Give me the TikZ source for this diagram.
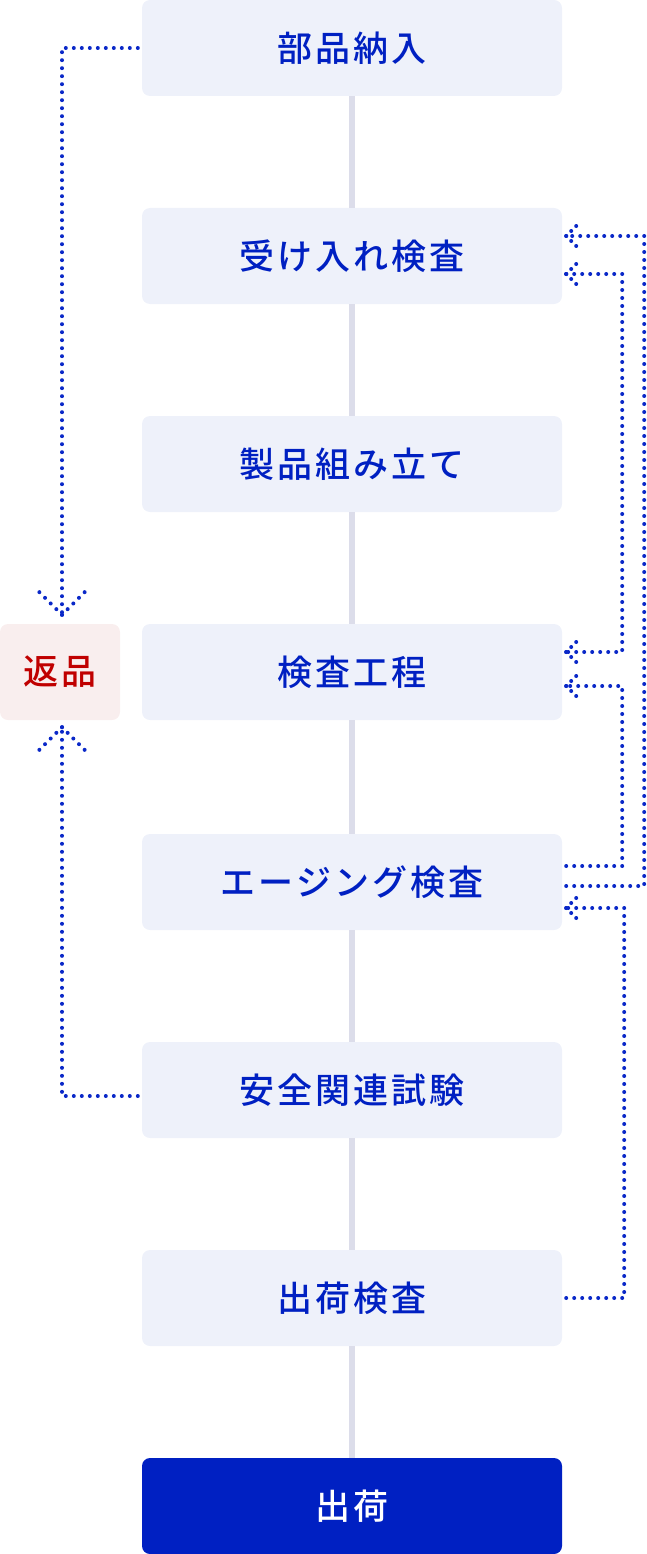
\documentclass[tikz,border=0pt]{standalone}
\usepackage{fontspec}
\usetikzlibrary{calc}
\newfontfamily\jp[LetterSpace=9]{Noto Sans CJK JP Medium}
\definecolor{boxfill}{HTML}{EEF1FA}
\definecolor{txtblue}{HTML}{0020C2}
\definecolor{dotblue}{HTML}{0A28C8}
\definecolor{vline}{HTML}{DCDDEA}
\definecolor{rfill}{HTML}{F9EEEE}
\definecolor{rtext}{HTML}{C00000}
\begin{document}
\begin{tikzpicture}[x=1pt,y=-1pt,
  stepbox/.style={draw=none, fill=boxfill, rounded corners=8pt, minimum width=420pt, minimum height=96pt, inner sep=0pt, text=txtblue, font=\jp\fontsize{35}{35}\selectfont},
  finalbox/.style={stepbox, fill=txtblue, text=white},
  retbox/.style={stepbox, fill=rfill, text=rtext, minimum width=120pt},
  vconn/.style={draw=vline, line width=6pt},
  dotline/.style={draw=dotblue, line width=4pt, line cap=round, dash pattern=on 0pt off 8pt},
  smallarm/.style={dotline, dash pattern=on 0pt off 7.07pt}]
\useasboundingbox (0,0) rectangle (646,1554);
\node[stepbox] (s1) at (352,48) {部品納入};
\node[stepbox] (s2) at (352,256) {受け入れ検査};
\node[stepbox] (s3) at (352,464) {製品組み立て};
\node[stepbox] (s4) at (352,672) {検査工程};
\node[stepbox] (s5) at (352,882) {エージング検査};
\node[stepbox] (s6) at (352,1090) {安全関連試験};
\node[stepbox] (s7) at (352,1298) {出荷検査};
\node[finalbox] (s8) at (352,1506) {出荷};
\node[retbox] (r) at (60,672) {返品};
\foreach \a/\b in {s1/s2,s2/s3,s3/s4,s4/s5,s5/s6,s6/s7,s7/s8}
  \draw[vconn] (\a.south) -- (\b.north);
% left connectors
\coordinate (t1) at ($(r.north)+(2,-9)$);
\coordinate (t2) at ($(r.south)+(2,7)$);
\draw[dotline] ($(s1.west)+(-4,0)$) -| (t1);
\draw[dotline] (t1) -- ++(-22.63,-22.63);
\draw[dotline] (t1) -- ++(22.63,-22.63);
\draw[dotline] ($(s6.west)+(-4,6)$) -| (t2);
\draw[dotline] (t2) -- ++(-22.63,22.63);
\draw[dotline] (t2) -- ++(22.63,22.63);
% right connectors
\coordinate (a1) at ($(s2.east)+(4,-20)$);
\coordinate (a2) at ($(s2.east)+(4,18)$);
\coordinate (a3) at ($(s4.east)+(4,-20)$);
\coordinate (a4) at ($(s4.east)+(4,14)$);
\coordinate (a5) at ($(s5.east)+(4,26)$);
\draw[dotline] ($(s5.east)+(4,4)$) -- ++(78,0) |- (a1);
\draw[dotline] (a2) -- ++(56,0) |- (a3);
\draw[dotline] ($(s5.east)+(4,-16)$) -- ++(56,0) |- (a4);
\draw[dotline] ($(s7.east)+(4,0)$) -- ++(58,0) |- (a5);
\foreach \t in {a1,a2,a3,a4,a5}{
  \draw[smallarm] (\t) -- ++(10,-10);
  \draw[smallarm] (\t) -- ++(10,10);
}
\end{tikzpicture}
\end{document}
